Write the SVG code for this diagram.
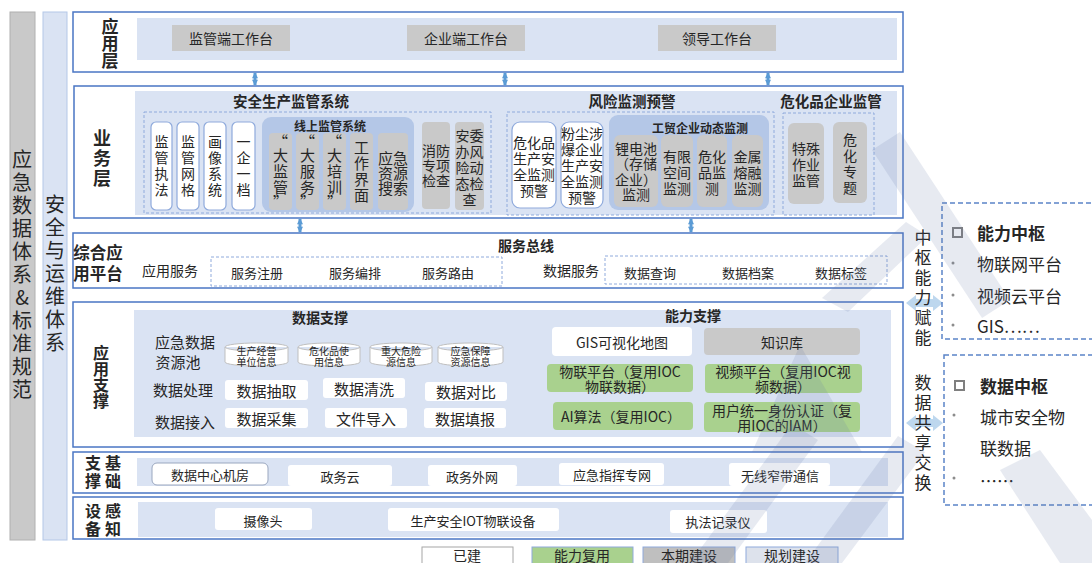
<svg xmlns="http://www.w3.org/2000/svg" width="1092" height="563" viewBox="0 0 1092 563">
<style>
text{font-family:"Noto Sans CJK SC","Noto Sans",sans-serif;fill:#262626;dominant-baseline:central;text-anchor:middle}
.vt{writing-mode:vertical-rl}
.up{text-orientation:upright}
.b{font-weight:bold}
.lay{fill:#fff;stroke:#4a76c4;stroke-width:1.5}
.lb{fill:#dae3f3}
.mb{fill:#b4c7e7}
.gr{fill:#c9c9c9}
.wb{fill:#fff;stroke:#8faadc;stroke-width:1.2}
.wn{fill:#fff}
.gn{fill:#a9d18e}
.dash{fill:none;stroke:#8faadc;stroke-dasharray:3 2;stroke-width:1}
.rd{fill:none;stroke:#5b84c8;stroke-dasharray:5 3;stroke-width:1.5}
.f14{font-size:14px}
.f13{font-size:13px}
.f15{font-size:15px}
.f12{font-size:12px}
.f10{font-size:10px}
.f17{font-size:17px}
.cyl{fill:#fff;stroke:#bfbfbf;stroke-width:1}
.arr{stroke:#5b9bd5;stroke-width:3}
.harr{fill:#bdd7ee}
.st{text-anchor:start}
.wm{fill:#6a7aa8;opacity:0.16}
</style>
<defs>
<marker id="ah" viewBox="0 0 8 8" markerWidth="7" markerHeight="6" refX="7" refY="4" orient="auto-start-reverse" markerUnits="userSpaceOnUse">
<path d="M0,0 L8,4 L0,8 z" fill="#5b9bd5"/>
</marker>
</defs>
<rect width="1092" height="563" fill="#fff"/>

<g id="col-standard">
<rect x="10" y="12" width="25" height="528" fill="#c9c9c9" stroke="#b0b0b0"/>
<text class="vt up" style="font-size:20px;letter-spacing:3px" x="22" y="276">应急数据体系&amp;标准规范</text>
</g>
<g id="col-security">
<rect x="43" y="12" width="24" height="528" fill="#dae3f3" stroke="#b4c7e7"/>
<text class="vt" style="font-size:20px;letter-spacing:3px" x="55" y="275">安全与运维体系</text>
</g>

<g id="layer-app">
<rect class="lay" x="73" y="12" width="830" height="60"/>
<text class="vt b f17" x="110" y="44">应用层</text>
<rect class="lb" x="137" y="18" width="760" height="42"/>
<rect class="gr" x="172" y="25" width="118" height="26"/><text class="f14" x="231" y="38">监管端工作台</text>
<rect class="gr" x="407" y="25" width="118" height="26"/><text class="f14" x="466" y="38">企业端工作台</text>
<rect class="gr" x="658" y="25" width="118" height="26"/><text class="f14" x="717" y="38">领导工作台</text>
</g>

<g id="layer-business">
<rect class="lay" x="74" y="86" width="829" height="132"/>
<text class="vt b" style="font-size:18px;letter-spacing:2px" x="102" y="159">业务层</text>
<rect class="lb" x="135" y="91" width="762" height="124"/>
</g>

<g id="sys-safety">
<text class="b" style="font-size:14.5px" x="291" y="100">安全生产监管系统</text>
<rect class="dash" x="144" y="112" width="347" height="101"/>
<rect class="wb" x="151" y="122" width="21" height="88" rx="5"/>
<text class="vt f14" style="letter-spacing:2px" x="161.5" y="167">监管执法</text>
<rect class="wb" x="177" y="122" width="22" height="88" rx="5"/>
<text class="vt f14" style="letter-spacing:2px" x="188" y="167">监管网格</text>
<rect class="wb" x="204" y="122" width="22" height="88" rx="5"/>
<text class="vt f14" style="letter-spacing:2px" x="215" y="167">画像系统</text>
<rect class="wb" x="232" y="122" width="23" height="88" rx="5"/>
<text class="vt f14" style="letter-spacing:2px" x="243.5" y="167">一企一档</text>
<rect class="mb" x="262" y="117" width="152" height="95" rx="9"/>
<text class="b f12" x="330" y="125">线上监管系统</text>
<rect class="gr" x="269" y="133" width="23" height="77" rx="4"/>
<text class="f15" x="280.5" y="140">“</text><text class="vt f15" style="letter-spacing:1px" x="280.5" y="172">大监管</text><text class="f15" x="280.5" y="201">”</text>
<rect class="gr" x="296" y="133" width="23" height="77" rx="4"/>
<text class="f15" x="307.5" y="140">“</text><text class="vt f15" style="letter-spacing:1px" x="307.5" y="172">大服务</text><text class="f15" x="307.5" y="201">”</text>
<rect class="gr" x="323" y="133" width="23" height="77" rx="4"/>
<text class="f15" x="334.5" y="140">“</text><text class="vt f15" style="letter-spacing:1px" x="334.5" y="172">大培训</text><text class="f15" x="334.5" y="201">”</text>
<rect class="gr" x="350" y="133" width="23" height="77" rx="4"/>
<text class="vt f15" style="letter-spacing:1px" x="361.5" y="172">工作界面</text>
<rect class="gr" x="378" y="133" width="30" height="77" rx="4"/>
<text style="font-size:15px"><tspan x="393" y="157">应急</tspan><tspan x="393" y="172">资源</tspan><tspan x="393" y="187">搜索</tspan></text>
<rect class="gr" x="422" y="122" width="28" height="87" rx="4"/>
<text class="f14"><tspan x="436" y="150">消防</tspan><tspan x="436" y="165">专项</tspan><tspan x="436" y="180">检查</tspan></text>
<rect class="gr" x="455" y="122" width="29" height="88" rx="4"/>
<text class="f14"><tspan x="469.5" y="135">安委</tspan><tspan x="469.5" y="151">办风</tspan><tspan x="469.5" y="167">险动</tspan><tspan x="469.5" y="183">态检</tspan><tspan x="469.5" y="199">查</tspan></text>
</g>

<g id="sys-risk">
<text class="b" style="font-size:14.5px" x="632" y="100">风险监测预警</text>
<rect class="dash" x="507" y="112" width="267" height="103"/>
<rect class="wb" x="512" y="122" width="44" height="86" rx="8"/>
<text class="f14"><tspan x="534" y="142">危化品</tspan><tspan x="534" y="158">生产安</tspan><tspan x="534" y="174">全监测</tspan><tspan x="534" y="190">预警</tspan></text>
<rect class="wb" x="561" y="122" width="42" height="86" rx="8"/>
<text class="f14"><tspan x="582" y="133">粉尘涉</tspan><tspan x="582" y="149">爆企业</tspan><tspan x="582" y="165">生产安</tspan><tspan x="582" y="181">全监测</tspan><tspan x="582" y="197">预警</tspan></text>
<rect class="mb" x="609" y="115" width="160" height="95" rx="9"/>
<text class="b f12" x="700" y="127">工贸企业动态监测</text>
<rect class="gr" x="614" y="135" width="44" height="72" rx="6"/>
<text class="f14"><tspan x="636" y="148">锂电池</tspan><tspan x="636" y="163">（存储</tspan><tspan x="636" y="179">企业）</tspan><tspan x="636" y="194">监测</tspan></text>
<rect class="gr" x="661" y="135" width="32" height="72" rx="6"/>
<text class="f14"><tspan x="677" y="156">有限</tspan><tspan x="677" y="172">空间</tspan><tspan x="677" y="188">监测</tspan></text>
<rect class="gr" x="697" y="135" width="30" height="72" rx="6"/>
<text class="f14"><tspan x="712" y="156">危化</tspan><tspan x="712" y="172">品监</tspan><tspan x="712" y="188">测</tspan></text>
<rect class="gr" x="732" y="135" width="31" height="72" rx="6"/>
<text class="f14"><tspan x="747.5" y="156">金属</tspan><tspan x="747.5" y="172">熔融</tspan><tspan x="747.5" y="188">监测</tspan></text>
</g>

<g id="sys-chem">
<text class="b" style="font-size:14.5px" x="831" y="100">危化品企业监管</text>
<rect class="dash" x="783" y="113" width="91" height="102"/>
<rect class="gr" x="788" y="123" width="36" height="81" rx="6"/>
<text class="f14"><tspan x="806" y="148">特殊</tspan><tspan x="806" y="164">作业</tspan><tspan x="806" y="180">监管</tspan></text>
<rect class="gr" x="833" y="122" width="34" height="81" rx="6"/>
<text class="vt f14" style="letter-spacing:2px" x="850" y="165">危化专题</text>
</g>

<g id="layer-platform">
<rect class="lay" x="73" y="233" width="830" height="55"/>
<text class="b" style="font-size:16.5px"><tspan x="98" y="252">综合应</tspan><tspan x="98" y="273">用平台</tspan></text>
<text class="b f14" x="526" y="245">服务总线</text>
<text class="f14" x="170" y="270">应用服务</text>
<rect class="dash" x="211" y="257" width="291" height="29"/>
<text class="f13" x="257" y="272">服务注册</text>
<text class="f13" x="355" y="272">服务编排</text>
<text class="f13" x="448" y="272">服务路由</text>
<text class="f14" x="571" y="270">数据服务</text>
<rect class="dash" x="605" y="256" width="282" height="28"/>
<text class="f13" x="650" y="272">数据查询</text>
<text class="f13" x="748" y="272">数据档案</text>
<text class="f13" x="841" y="272">数据标签</text>
</g>

<g id="layer-support">
<rect class="lay" x="73" y="302" width="830" height="145"/>
<text class="vt b" style="font-size:16px" x="101" y="377">应用支撑</text>
<rect class="lb" x="134" y="310" width="757" height="127"/>
</g>

<g id="data-support">
<text class="b f14" x="320" y="317">数据支撑</text>
<text class="f15" x="185" y="341">应急数据</text>
<text class="f15" x="178" y="361">资源池</text>
<text class="f15" x="183" y="389">数据处理</text>
<text class="f15" x="185" y="421">数据接入</text>
<path class="cyl" d="M225,347 A31.5,4 0 0 1 288,347 V362 A31.5,4 0 0 1 225,362 Z M225,347 A31.5,4 0 0 0 288,347"/>
<text class="f10"><tspan x="256.5" y="350">生产经营</tspan><tspan x="256.5" y="361">单位信息</tspan></text>
<path class="cyl" d="M298,347 A31,4 0 0 1 360,347 V362 A31,4 0 0 1 298,362 Z M298,347 A31,4 0 0 0 360,347"/>
<text class="f10"><tspan x="329" y="350">危化品使</tspan><tspan x="329" y="361">用信息</tspan></text>
<path class="cyl" d="M370,347 A31,4 0 0 1 432,347 V362 A31,4 0 0 1 370,362 Z M370,347 A31,4 0 0 0 432,347"/>
<text class="f10"><tspan x="401" y="350">重大危险</tspan><tspan x="401" y="361">源信息</tspan></text>
<path class="cyl" d="M438,347 A32.5,4 0 0 1 503,347 V362 A32.5,4 0 0 1 438,362 Z M438,347 A32.5,4 0 0 0 503,347"/>
<text class="f10"><tspan x="470.5" y="350">应急保障</tspan><tspan x="470.5" y="361">资源信息</tspan></text>
<rect class="wn" x="225" y="380" width="83" height="20" rx="3"/><text class="f15" x="266.5" y="390">数据抽取</text>
<rect class="wn" x="323" y="378" width="82" height="20" rx="3"/><text class="f15" x="364" y="388">数据清洗</text>
<rect class="wn" x="425" y="382" width="82" height="19" rx="3"/><text class="f15" x="466" y="391">数据对比</text>
<rect class="wn" x="225" y="408" width="83" height="20" rx="3"/><text class="f15" x="266.5" y="418">数据采集</text>
<rect class="wn" x="325" y="408" width="82" height="20" rx="3"/><text class="f15" x="366" y="418">文件导入</text>
<rect class="wn" x="424" y="408" width="82" height="20" rx="3"/><text class="f15" x="465" y="418">数据填报</text>
</g>

<g id="ability-support">
<text class="b f14" x="693" y="315">能力支撑</text>
<rect class="wn" x="552" y="327" width="140" height="29" rx="4"/><text class="f14" x="622" y="342">GIS可视化地图</text>
<rect class="gr" x="704" y="328" width="156" height="27" rx="4"/><text class="f14" x="782" y="342">知识库</text>
<rect class="gn" x="547" y="364" width="146" height="28" rx="4"/>
<text class="f14"><tspan x="620" y="371">物联平台（复用IOC</tspan><tspan x="620" y="386">物联数据）</tspan></text>
<rect class="gn" x="705" y="364" width="157" height="29" rx="4"/>
<text class="f14"><tspan x="783" y="371">视频平台（复用IOC视</tspan><tspan x="783" y="386">频数据）</tspan></text>
<rect class="gn" x="553" y="402" width="140" height="28" rx="4"/><text class="f14" x="621" y="416">AI算法（复用IOC）</text>
<rect class="gn" x="704" y="402" width="156" height="30" rx="4"/>
<text class="f14"><tspan x="782" y="410">用户统一身份认证（复</tspan><tspan x="782" y="425">用IOC的IAM）</tspan></text>
</g>

<g id="layer-base">
<rect class="lay" x="73" y="452" width="830" height="41"/>
<text class="vt b" style="font-size:16px;letter-spacing:2px" x="93" y="473">支撑</text>
<text class="vt b" style="font-size:16px;letter-spacing:2px" x="113" y="473">基础</text>
<rect class="lb" x="137" y="458" width="751" height="28"/>
<rect x="152" y="463" width="116" height="22" rx="5" fill="#fff" stroke="#9aa7bf"/><text class="f13" x="210" y="474">数据中心机房</text>
<rect class="wn" x="288" y="465" width="104" height="21" rx="3"/><text class="f13" x="340" y="476">政务云</text>
<rect class="wn" x="428" y="465" width="89" height="21" rx="3"/><text class="f13" x="472" y="476">政务外网</text>
<rect class="wn" x="559" y="463" width="105" height="22" rx="3"/><text class="f13" x="612" y="474">应急指挥专网</text>
<rect class="wn" x="729" y="463" width="101" height="23" rx="3"/><text class="f13" x="780" y="475">无线窄带通信</text>
</g>

<g id="layer-sensing">
<rect class="lay" x="73" y="497" width="830" height="42"/>
<text class="vt b" style="font-size:16px;letter-spacing:2px" x="93" y="521">设备</text>
<text class="vt b" style="font-size:16px;letter-spacing:2px" x="113" y="521">感知</text>
<rect class="lb" x="138" y="502" width="750" height="35"/>
<rect class="wn" x="215" y="508" width="97" height="22" rx="3"/><text class="f13" x="263" y="520">摄像头</text>
<rect class="wn" x="388" y="508" width="171" height="23" rx="3"/><text class="f13" x="473" y="520">生产安全IOT物联设备</text>
<rect class="wn" x="670" y="510" width="97" height="23" rx="3"/><text class="f13" x="718" y="521">执法记录仪</text>
</g>

<g id="legend">
<rect x="422" y="547" width="91" height="20" fill="#fff" stroke="#a6a6a6"/><text class="f14" x="467" y="555">已建</text>
<rect x="532" y="547" width="101" height="20" fill="#a9d18e" stroke="#8faadc"/><text class="f14" x="582" y="555">能力复用</text>
<rect x="643" y="547" width="92" height="20" fill="#bfbfbf" stroke="#8faadc"/><text class="f14" x="689" y="555">本期建设</text>
<rect x="746" y="547" width="92" height="20" fill="#dde2ec" stroke="#8faadc"/><text class="f14" x="792" y="555">规划建设</text>
</g>

<g id="connectors">
<line class="arr" x1="255" y1="73" x2="255" y2="85" marker-start="url(#ah)" marker-end="url(#ah)"/>
<line class="arr" x1="505" y1="73" x2="505" y2="85" marker-start="url(#ah)" marker-end="url(#ah)"/>
<line class="arr" x1="768" y1="73" x2="768" y2="85" marker-start="url(#ah)" marker-end="url(#ah)"/>
<line class="arr" x1="300" y1="219" x2="300" y2="232" marker-start="url(#ah)" marker-end="url(#ah)"/>
<line class="arr" x1="691" y1="219" x2="691" y2="232" marker-start="url(#ah)" marker-end="url(#ah)"/>
<polygon class="harr" points="906,303 916,295 916,299 933,299 933,295 943,303 933,311 933,307 916,307 916,311"/>
<polygon class="harr" points="906,423 916,415 916,419 933,419 933,415 943,423 933,431 933,427 916,427 916,431"/>
</g>

<g id="label-ability">
<text class="vt f17" style="letter-spacing:3px" x="923" y="289">中枢能力赋能</text>
</g>
<g id="label-data">
<text class="vt f17" style="letter-spacing:3px" x="923" y="434">数据共享交换</text>
</g>

<g id="hub-ability">
<rect class="rd" x="942" y="203" width="160" height="136"/>
<rect x="953" y="228" width="9" height="9" fill="none" stroke="#7f7f7f" stroke-width="2"/>
<text class="b st f17" x="977" y="232">能力中枢</text>
<circle cx="953" cy="263" r="1.5" fill="#8c8c8c"/><text class="st f17" x="977" y="263">物联网平台</text>
<circle cx="953" cy="295" r="1.5" fill="#8c8c8c"/><text class="st f17" x="977" y="295">视频云平台</text>
<circle cx="953" cy="325" r="1.5" fill="#8c8c8c"/><text class="st f17" x="977" y="325">GIS……</text>
</g>
<g id="hub-data">
<rect class="rd" x="944" y="355" width="160" height="150"/>
<rect x="955" y="381" width="9" height="9" fill="none" stroke="#7f7f7f" stroke-width="2"/>
<text class="b st f17" x="980" y="385">数据中枢</text>
<circle cx="954" cy="415" r="1.5" fill="#8c8c8c"/><text class="st f17" x="980" y="416">城市安全物</text>
<text class="st f17" x="980" y="447">联数据</text>
<circle cx="954" cy="478" r="1.5" fill="#8c8c8c"/><text class="st f17" x="980" y="480">……</text>
</g>

<g id="watermark">
<polygon class="wm" points="690,563 728,563 818,440 792,424"/>
<polygon class="wm" points="805,563 842,563 925,452 898,436"/>
<polygon class="wm" points="800,345 862,452 752,452"/>
<polygon class="wm" points="872,150 900,132 1010,300 982,318"/>
<polygon class="wm" points="822,298 848,312 928,236 906,222"/>
<polygon class="wm" points="1000,470 1040,450 1092,520 1092,563 1060,563"/>
</g>
</svg>
